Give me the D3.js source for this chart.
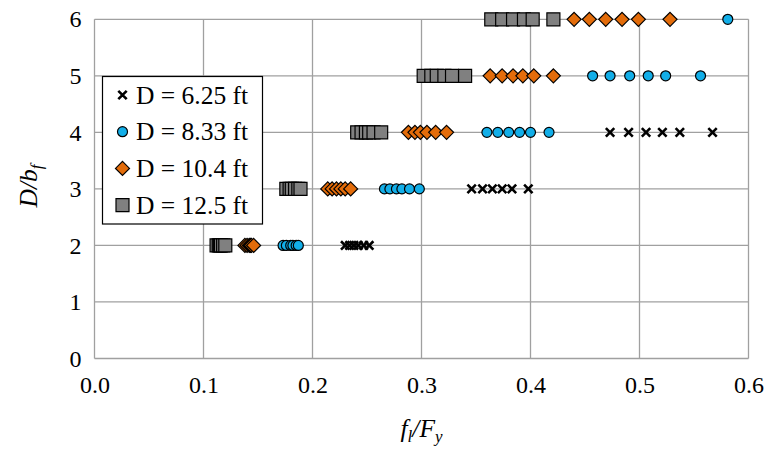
<!DOCTYPE html>
<html>
<head>
<meta charset="utf-8">
<script src="https://cdn.jsdelivr.net/npm/d3@7"></script>
<style>
  html, body { margin: 0; padding: 0; background: #fff; }
  svg { display: block; font-family: "Liberation Serif", "Times New Roman", serif; }
</style>
</head>
<body>
<svg id="chart" width="769" height="453"></svg>
<script>
// D/b_f levels at which the stresses were evaluated
const ratioLevels = [2, 3, 4, 5, 6];

// f_l/F_y values per D/b_f level, one array per flange depth D
const d625 = [
  [0.230, 0.234, 0.238, 0.242, 0.247, 0.252],
  [0.346, 0.356, 0.365, 0.374, 0.383, 0.398],
  [0.473, 0.490, 0.506, 0.521, 0.537, 0.567],
  [],
  []
];
const d833 = [
  [0.173, 0.176, 0.180, 0.182, 0.185, 0.187],
  [0.266, 0.271, 0.277, 0.282, 0.289, 0.298],
  [0.360, 0.370, 0.380, 0.390, 0.400, 0.417],
  [0.457, 0.473, 0.491, 0.508, 0.524, 0.556],
  [0.581]
];
const d104 = [
  [0.138, 0.140, 0.142, 0.143, 0.144, 0.146],
  [0.214, 0.218, 0.222, 0.226, 0.230, 0.235],
  [0.288, 0.294, 0.299, 0.305, 0.313, 0.323],
  [0.363, 0.374, 0.384, 0.393, 0.403, 0.421],
  [0.440, 0.454, 0.469, 0.484, 0.499, 0.528]
];
const d125 = [
  [0.112, 0.114, 0.115, 0.116, 0.118, 0.120],
  [0.176, 0.179, 0.181, 0.184, 0.187, 0.189],
  [0.241, 0.245, 0.249, 0.252, 0.256, 0.263],
  [0.302, 0.309, 0.314, 0.321, 0.328, 0.340],
  [0.364, 0.374, 0.384, 0.394, 0.402, 0.421]
];

const seriesNames = ["D = 6.25 ft", "D = 8.33 ft", "D = 10.4 ft", "D = 12.5 ft"];
const xTicks = [0, 0.1, 0.2, 0.3, 0.4, 0.5, 0.6];
const xTickLabels = ["0.0", "0.1", "0.2", "0.3", "0.4", "0.5", "0.6"];
const yTicks = [0, 1, 2, 3, 4, 5, 6];

const series = [
  { name: seriesNames[0], values: d625, shape: "cross" },
  { name: seriesNames[1], values: d833, shape: "circle" },
  { name: seriesNames[2], values: d104, shape: "diamond" },
  { name: seriesNames[3], values: d125, shape: "square" }
];

const svg = d3.select("#chart");
const x = d3.scaleLinear().domain([0, 0.6]).range([94.5, 748.5]);
const y = d3.scaleLinear().domain([0, 6]).range([358.5, 19.3]);

const gridColor = "#a0a0a0";
const tickFont = 24;
const legendFont = 25.5;

// Gridlines (vertical + horizontal), which also frame the plot area
const grid = svg.append("g");
grid.selectAll(".vg").data(xTicks).join("line")
  .attr("x1", d => x(d)).attr("x2", d => x(d))
  .attr("y1", y(0)).attr("y2", y(6))
  .attr("stroke", gridColor).attr("stroke-width", 1.3);
grid.selectAll(".hg").data(yTicks).join("line")
  .attr("x1", x(0)).attr("x2", x(0.6))
  .attr("y1", d => y(d)).attr("y2", d => y(d))
  .attr("stroke", gridColor).attr("stroke-width", 1.3);

// Axes built with d3-axis, keeping only the labels
const xAxis = svg.append("g")
  .attr("transform", `translate(0,${y(0)})`)
  .call(d3.axisBottom(x).tickValues(xTicks).tickFormat((d, i) => xTickLabels[i]).tickSize(0).tickPadding(22));
xAxis.select(".domain").remove();
xAxis.selectAll("text").attr("font-size", tickFont).attr("font-family", "Liberation Serif").attr("fill", "#000")
  .attr("dy", "0.5em");

const yAxis = svg.append("g")
  .attr("transform", `translate(${x(0)},0)`)
  .call(d3.axisLeft(y).tickValues(yTicks).tickFormat(d3.format("d")).tickSize(0).tickPadding(13));
yAxis.select(".domain").remove();
yAxis.selectAll("text").attr("font-size", tickFont).attr("font-family", "Liberation Serif").attr("fill", "#000");

// Marker drawing
function markerPath(shape) {
  if (shape === "square") return "M-6.5,-6.5H6.5V6.5H-6.5Z";
  if (shape === "diamond") return "M0,-7L7,0L0,7L-7,0Z";
  if (shape === "circle") return "M5,0A5,5 0 1,1 -5,0A5,5 0 1,1 5,0Z";
  return "M-4.2,-4.2L4.2,4.2M-4.2,4.2L4.2,-4.2";
}
function styleMarker(sel, shape) {
  if (shape === "cross") {
    sel.attr("fill", "none").attr("stroke", "#000").attr("stroke-width", 2.6);
  } else if (shape === "circle") {
    sel.attr("fill", "#12aee8").attr("stroke", "#000").attr("stroke-width", 1.2);
  } else if (shape === "diamond") {
    sel.attr("fill", "#e36c0a").attr("stroke", "#000").attr("stroke-width", 1.2);
  } else {
    sel.attr("fill", "#808080").attr("stroke", "#000").attr("stroke-width", 1.2);
  }
}

const points = svg.append("g");
series.forEach(s => {
  const pts = [];
  s.values.forEach((row, i) => row.forEach(v => pts.push({ fx: v, r: ratioLevels[i] })));
  const g = points.append("g");
  const m = g.selectAll("path").data(pts).join("path")
    .attr("transform", d => `translate(${x(d.fx)},${y(d.r)})`)
    .attr("d", markerPath(s.shape));
  styleMarker(m, s.shape);
});

// Legend
const legend = svg.append("g");
legend.append("rect")
  .attr("x", 102.5).attr("y", 76.5).attr("width", 160).attr("height", 147.5)
  .attr("fill", "#fff").attr("stroke", "#000").attr("stroke-width", 1.2);
series.forEach((s, i) => {
  const cy = 95 + i * 36.7;
  const m = legend.append("path")
    .attr("transform", `translate(122.5,${cy})`)
    .attr("d", markerPath(s.shape));
  styleMarker(m, s.shape);
  legend.append("text")
    .attr("x", 136).attr("y", cy).attr("dy", "0.34em")
    .attr("font-size", legendFont).attr("fill", "#000")
    .text(s.name);
});

// Axis titles
const yTitle = svg.append("text")
  .attr("transform", `translate(37,186) rotate(-90)`)
  .attr("text-anchor", "middle")
  .attr("font-size", legendFont).attr("font-style", "italic");
yTitle.append("tspan").text("D/b");
yTitle.append("tspan").attr("font-size", 17).attr("dy", 5).text("f");

const xTitle = svg.append("text")
  .attr("x", (x(0) + x(0.6)) / 2).attr("y", 437)
  .attr("text-anchor", "middle")
  .attr("font-size", legendFont).attr("font-style", "italic");
xTitle.append("tspan").text("f");
xTitle.append("tspan").attr("font-size", 17).attr("dy", 5).text("l");
xTitle.append("tspan").attr("dy", -5).text("/F");
xTitle.append("tspan").attr("font-size", 17).attr("dy", 5).text("y");
</script>
</body>
</html>
